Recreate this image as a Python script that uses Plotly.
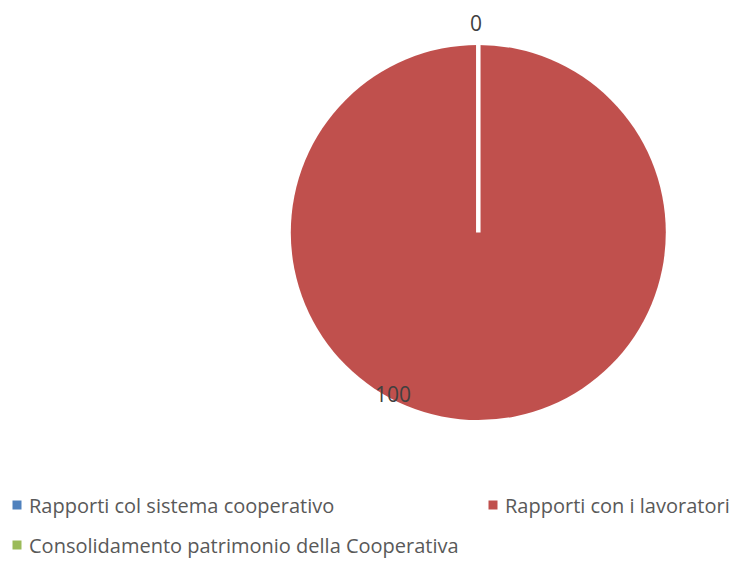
import plotly.graph_objects as go

labels = ["Rapporti col sistema cooperativo", "Rapporti con i lavoratori",
          "Consolidamento patrimonio della Cooperativa"]
values = [0, 100, 0]
colors = ["#4F81BD", "#C0504D", "#9BBB59"]

W, H = 745, 561
OFF = 8  # page body margin of the exported html
cx, cy, R = 478.3 - OFF, 232.5 - OFF, 187.5
dom_x = [(cx - R) / W, (cx + R) / W]
dom_y = [(H - (cy + R)) / H, (H - (cy - R)) / H]


def px(x):
    return (x - OFF) / W


def py(y):
    return (H - (y - OFF)) / H


fig = go.Figure(go.Pie(
    labels=labels, values=values, sort=False, direction="clockwise", rotation=0,
    marker=dict(colors=colors, line=dict(color="white", width=0)),
    textinfo="none", hoverinfo="label+value",
    domain=dict(x=dom_x, y=dom_y),
    showlegend=False,
))

# white slice border along the 12 o'clock radius (start/end of the zero slices)
fig.add_shape(type="line", xref="paper", yref="paper",
              x0=cx / W, x1=cx / W, y0=(H - cy) / H, y1=dom_y[1],
              line=dict(color="white", width=4.5))

# data labels
lab_font = dict(family="Open Sans", size=21, color="#404040")
fig.add_annotation(x=px(476), y=py(23), xref="paper", yref="paper",
                   xanchor="center", yanchor="middle",
                   text=str(values[0]), showarrow=False, font=lab_font)
fig.add_annotation(x=px(393), y=py(394), xref="paper", yref="paper",
                   xanchor="center", yanchor="middle",
                   text=str(values[1]), showarrow=False, font=lab_font)

# legend (two columns, wrapping like the original)
leg_font = dict(family="Open Sans", size=20, color="#595959")
leg_pos = [(17, 505), (493, 505), (17, 545)]
for lab, col, (lx, ly) in zip(labels, colors, leg_pos):
    fig.add_shape(type="rect", xref="paper", yref="paper",
                  x0=px(lx - 4.5), x1=px(lx + 4.5), y0=py(ly + 4.5), y1=py(ly - 4.5),
                  fillcolor=col, line=dict(width=0))
    fig.add_annotation(x=px(lx + 11), y=py(ly), xref="paper", yref="paper",
                       xanchor="left", yanchor="middle", text=lab,
                       showarrow=False, font=leg_font, borderpad=0)

fig.update_layout(
    width=W, height=H, margin=dict(l=0, r=0, t=0, b=0),
    paper_bgcolor="white", plot_bgcolor="white",
    showlegend=False,
)

fig.write_html("out.html")
